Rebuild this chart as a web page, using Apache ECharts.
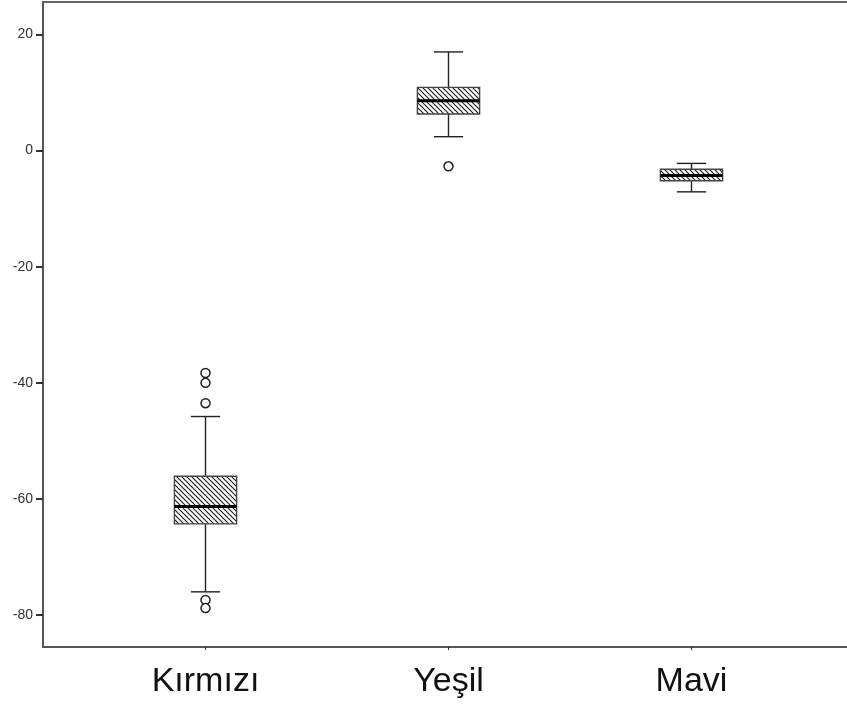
<!DOCTYPE html>
<html>
<head>
<meta charset="utf-8">
<script src="https://cdn.jsdelivr.net/npm/echarts@6/dist/echarts.min.js"></script>
<style>
  html, body { margin: 0; padding: 0; background: #fff; }
  #chart { width: 847px; height: 709px; }
</style>
</head>
<body>
<div id="chart"></div>
<script>
// Groups on the horizontal axis
const categories = ['Kırmızı', 'Yeşil', 'Mavi'];

// Five-number summaries per group: lower whisker, Q1, median, Q3, upper whisker
const whiskerLow  = [-76.0, 2.4, -7.1];
const quartile1   = [-64.3, 6.3, -5.2];
const medians     = [-61.3, 8.6, -4.3];
const quartile3   = [-56.1, 10.9, -3.2];
const whiskerHigh = [-45.8, 17.0, -2.2];

// Outlying observations: [group, value]
const outliers = [
  ['Kırmızı', -38.3], ['Kırmızı', -40.0], ['Kırmızı', -43.5],
  ['Kırmızı', -77.4], ['Kırmızı', -78.8],
  ['Yeşil', -2.7]
];

// Value axis range and labelled ticks
const yMin = -85.5;
const yMax = 25.6;
const yTicks = [-80, -60, -40, -20, 0, 20];

// Diagonal hatch used inside the boxes
function hatchPattern() {
  const s = 5;
  const c = document.createElement('canvas');
  c.width = s; c.height = s;
  const g = c.getContext('2d');
  g.fillStyle = '#fff';
  g.fillRect(0, 0, s, s);
  g.strokeStyle = '#222';
  g.lineWidth = 1.2;
  for (const k of [-s, 0, s]) {
    g.beginPath();
    g.moveTo(k - 1, -1);
    g.lineTo(k + s + 1, s + 1);
    g.stroke();
  }
  return { image: c, repeat: 'repeat' };
}
const hatch = hatchPattern();

const boxData = categories.map((c, i) => [
  i, whiskerLow[i], quartile1[i], medians[i], quartile3[i], whiskerHigh[i]
]);

function renderBox(params, api) {
  const idx = api.value(0);
  const cx = api.coord([idx, 0])[0];
  const yLo = api.coord([idx, api.value(1)])[1];
  const yQ1 = api.coord([idx, api.value(2)])[1];
  const yMd = api.coord([idx, api.value(3)])[1];
  const yQ3 = api.coord([idx, api.value(4)])[1];
  const yHi = api.coord([idx, api.value(5)])[1];
  const band = api.size([1, 0])[0];
  const half = band * 0.128;
  const cap = half * 0.47;
  const line = { stroke: '#222', lineWidth: 1.4 };
  return {
    type: 'group',
    children: [
      { type: 'line', shape: { x1: cx, y1: yQ3, x2: cx, y2: yHi }, style: line },
      { type: 'line', shape: { x1: cx, y1: yQ1, x2: cx, y2: yLo }, style: line },
      { type: 'line', shape: { x1: cx - cap, y1: yHi, x2: cx + cap, y2: yHi }, style: line },
      { type: 'line', shape: { x1: cx - cap, y1: yLo, x2: cx + cap, y2: yLo }, style: line },
      {
        type: 'rect',
        shape: { x: cx - half, y: yQ3, width: half * 2, height: yQ1 - yQ3 },
        style: { fill: hatch, stroke: '#444', lineWidth: 1.4 }
      },
      { type: 'line', shape: { x1: cx - half, y1: yMd, x2: cx + half, y2: yMd },
        style: { stroke: '#000', lineWidth: 3 } }
    ]
  };
}

const chart = echarts.init(document.getElementById('chart'), null, { renderer: 'canvas' });

chart.setOption({
  backgroundColor: '#ffffff',
  animation: false,
  grid: [
    // frame: left axis, top and bottom rules
    { left: 43, right: 0, top: 2, bottom: 62 },
    // plotting area for the groups
    { left: 84, right: 34, top: 2, bottom: 62 }
  ],
  xAxis: [
    {
      gridIndex: 0, type: 'value', min: 0, max: 1, position: 'bottom',
      axisLine: { show: true, onZero: false, lineStyle: { color: '#555', width: 2 } },
      axisTick: { show: false }, axisLabel: { show: false }, splitLine: { show: false }
    },
    {
      gridIndex: 0, type: 'value', min: 0, max: 1, position: 'top',
      axisLine: { show: true, onZero: false, lineStyle: { color: '#666', width: 2 } },
      axisTick: { show: false }, axisLabel: { show: false }, splitLine: { show: false }
    },
    {
      gridIndex: 1, type: 'category', data: categories, position: 'bottom',
      axisLine: { show: false, onZero: false },
      axisTick: { show: true, alignWithLabel: true, length: 3, lineStyle: { color: '#333', width: 1 } },
      axisLabel: {
        show: true, fontSize: 34, color: '#111', margin: 18,
        fontFamily: 'Liberation Sans, Arial, sans-serif'
      },
      splitLine: { show: false }
    }
  ],
  yAxis: [
    {
      gridIndex: 0, type: 'value', min: yMin, max: yMax,
      axisLine: { show: true, onZero: false, lineStyle: { color: '#555', width: 2 } },
      axisTick: { show: true, length: 7, customValues: yTicks, lineStyle: { color: '#333', width: 2 } },
      axisLabel: {
        show: true, customValues: yTicks,
        fontSize: 14, color: '#333', margin: 10,
        fontFamily: 'Liberation Sans, Arial, sans-serif'
      },
      splitLine: { show: false }
    },
    {
      gridIndex: 1, type: 'value', min: yMin, max: yMax, show: false,
      splitLine: { show: false }
    }
  ],
  series: [
    {
      type: 'custom',
      xAxisIndex: 2, yAxisIndex: 1,
      renderItem: renderBox,
      encode: { x: 0, y: [1, 2, 3, 4, 5] },
      data: boxData,
      z: 2
    },
    {
      type: 'scatter',
      xAxisIndex: 2, yAxisIndex: 1,
      data: outliers,
      symbol: 'circle', symbolSize: 9,
      itemStyle: { color: '#fff', borderColor: '#222', borderWidth: 1.5, opacity: 1 },
      z: 3
    }
  ]
});
</script>
</body>
</html>
